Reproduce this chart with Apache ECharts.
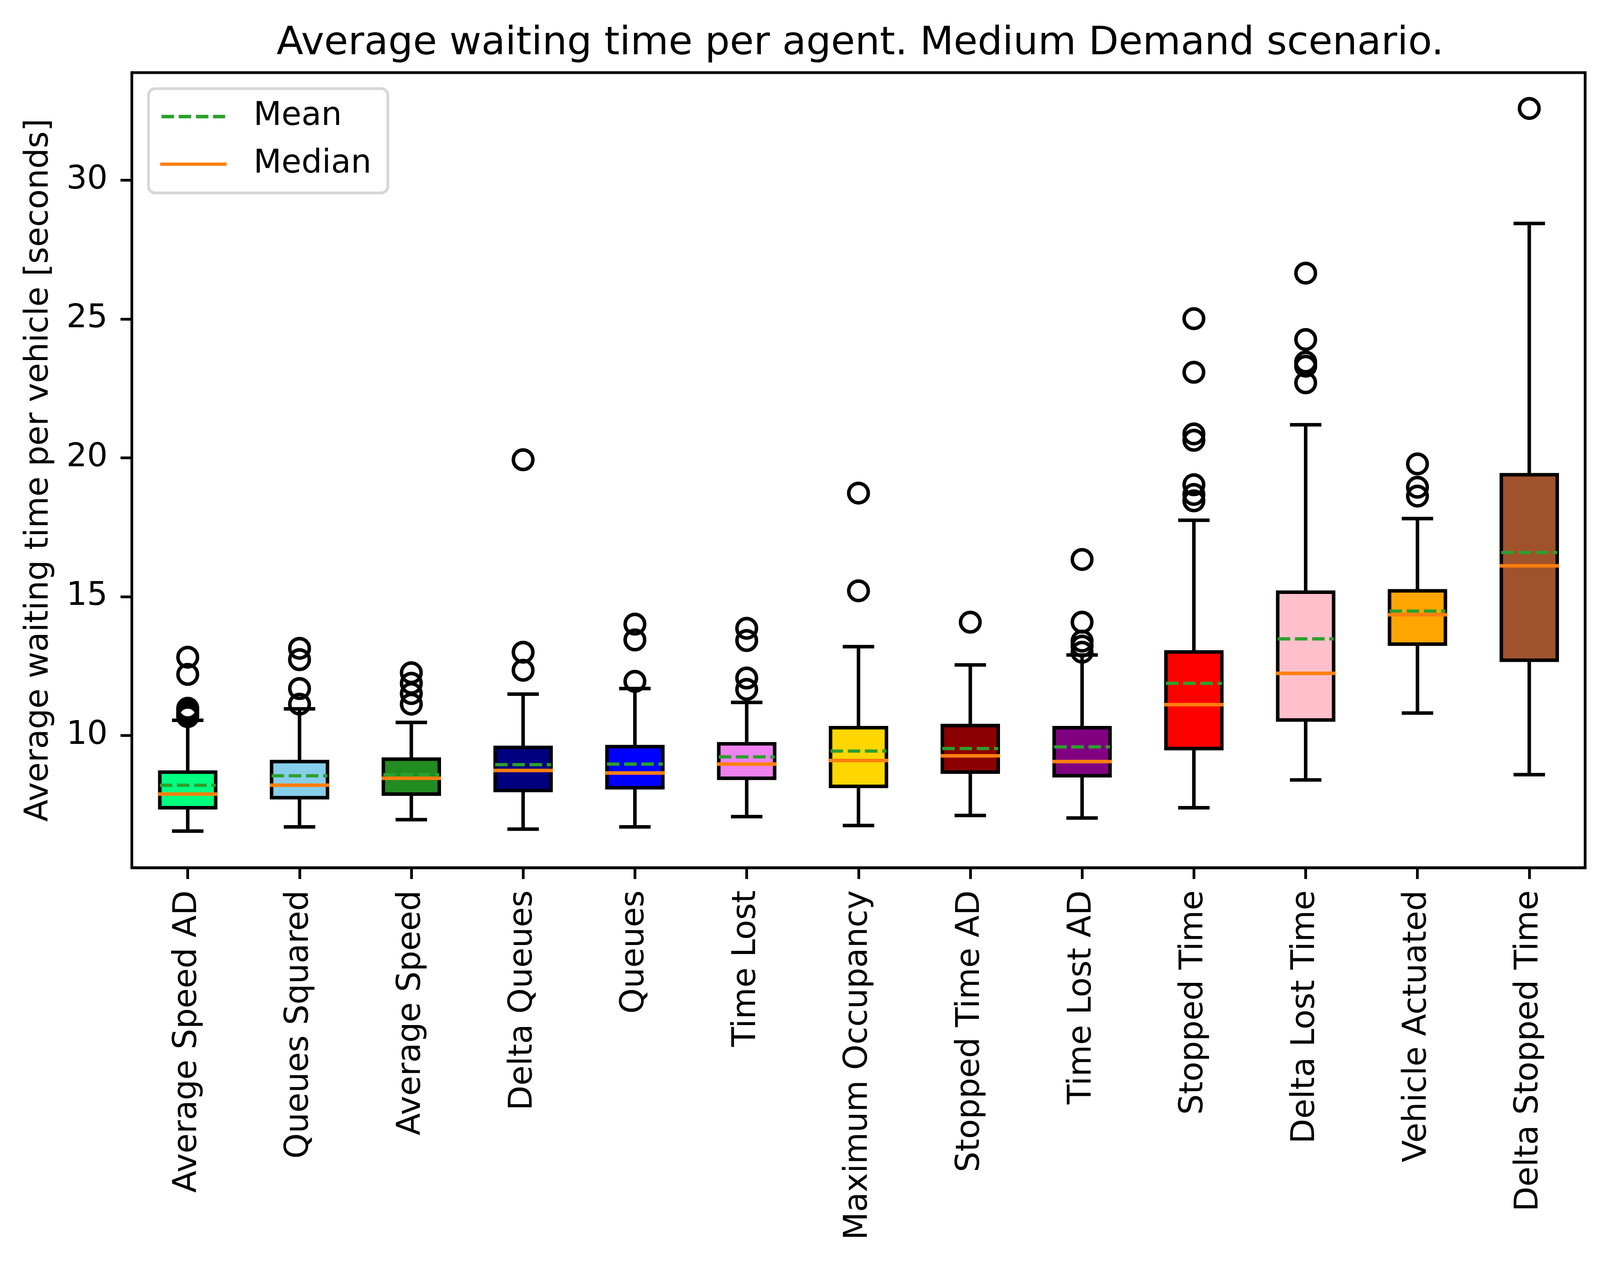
<!DOCTYPE html>
<html>
<head>
<meta charset="utf-8">
<script src="https://cdn.jsdelivr.net/npm/echarts@6/dist/echarts.min.js"></script>
<style>
html,body{margin:0;padding:0;background:#fff;overflow:hidden;}
#chart{width:4118px;height:3242px;}
</style>
</head>
<body>
<div id="chart"></div>
<script>
const categories = ['Average Speed AD','Queues Squared','Average Speed','Delta Queues','Queues','Time Lost','Maximum Occupancy','Stopped Time AD','Time Lost AD','Stopped Time','Delta Lost Time','Vehicle Actuated','Delta Stopped Time'];
const whiskerLow  = [6.56, 6.71, 6.97, 6.63, 6.71, 7.08, 6.76, 7.12, 7.03, 7.40, 8.40, 10.81, 8.59];
const q1Values    = [7.40, 7.76, 7.89, 8.02, 8.12, 8.46, 8.17, 8.68, 8.55, 9.53, 10.56, 13.29, 12.71];
const medians     = [7.89, 8.21, 8.46, 8.74, 8.65, 8.97, 9.10, 9.27, 9.06, 11.11, 12.24, 14.35, 16.11];
const q3Values    = [8.68, 9.06, 9.15, 9.57, 9.60, 9.70, 10.28, 10.36, 10.28, 13.01, 15.16, 15.21, 19.39];
const whiskerHigh = [10.55, 10.96, 10.47, 11.49, 11.69, 11.19, 13.20, 12.54, 12.90, 17.75, 21.19, 17.81, 28.44];
const means       = [8.21, 8.55, 8.59, 8.95, 8.97, 9.23, 9.44, 9.53, 9.59, 11.88, 13.48, 14.48, 16.59];
const outliers = [
  [12.82, 12.20, 10.98, 10.90, 10.82, 10.74, 10.68],
  [13.14, 12.73, 11.69, 11.13],
  [12.26, 11.88, 11.51, 11.13],
  [19.93, 13.00, 12.35],
  [14.01, 13.44, 11.95],
  [13.86, 13.42, 12.07, 11.66],
  [18.73, 15.21],
  [14.08],
  [16.34, 14.08, 13.40, 13.22, 13.00],
  [25.01, 23.08, 20.86, 20.63, 19.03, 18.68, 18.45],
  [26.65, 24.26, 23.45, 23.30, 22.70],
  [19.78, 18.94, 18.62],
  [32.58]
];
const yTicks = [10, 15, 20, 25, 30];
const boxColors = ['#00ff7f','#87ceeb','#228b22','#000080','#0000ff','#ee82ee','#ffd700','#8b0000','#800080','#ff0000','#ffc0cb','#ffa500','#a0522d'];

const FONT = 'DejaVu Sans';
const LW = 9;

const boxData = categories.map((c, i) => [i, whiskerLow[i], q1Values[i], medians[i], q3Values[i], whiskerHigh[i]]);
const medianData = categories.map((c, i) => [i, medians[i]]);
const meanData = categories.map((c, i) => [i, means[i]]);
const outlierData = [];
outliers.forEach((arr, i) => arr.forEach(v => outlierData.push([i, v])));

function renderBox(params, api) {
  const i = api.value(0);
  const band = api.size([1, 0])[0];
  const hw = band * 0.25;
  const ch = band * 0.125;
  const pl = api.coord([i, api.value(1)]);
  const p1 = api.coord([i, api.value(2)]);
  const p3 = api.coord([i, api.value(4)]);
  const ph = api.coord([i, api.value(5)]);
  const cx = pl[0];
  const ls = {stroke: '#000', lineWidth: LW, lineCap: 'butt'};
  const cs = {stroke: '#000', lineWidth: LW, lineCap: 'square'};
  return {
    type: 'group',
    children: [
      {type: 'line', shape: {x1: cx, y1: p3[1], x2: cx, y2: ph[1]}, style: ls},
      {type: 'line', shape: {x1: cx, y1: p1[1], x2: cx, y2: pl[1]}, style: ls},
      {type: 'line', shape: {x1: cx - ch, y1: ph[1], x2: cx + ch, y2: ph[1]}, style: cs},
      {type: 'line', shape: {x1: cx - ch, y1: pl[1], x2: cx + ch, y2: pl[1]}, style: cs},
      {type: 'rect', shape: {x: cx - hw, y: p3[1], width: 2 * hw, height: p1[1] - p3[1]},
        style: {fill: boxColors[i], stroke: '#000', lineWidth: LW}}
    ]
  };
}
function renderMedian(params, api) {
  const i = api.value(0);
  const band = api.size([1, 0])[0];
  const hw = band * 0.25;
  const p = api.coord([i, api.value(1)]);
  return {type: 'line', shape: {x1: p[0] - hw, y1: p[1], x2: p[0] + hw, y2: p[1]},
    style: {stroke: '#ff7f0e', lineWidth: LW, lineCap: 'square'}};
}
function renderMean(params, api) {
  const i = api.value(0);
  const band = api.size([1, 0])[0];
  const hw = band * 0.25;
  const p = api.coord([i, api.value(1)]);
  return {type: 'line', shape: {x1: p[0] - hw, y1: p[1], x2: p[0] + hw, y2: p[1]},
    style: {stroke: '#2ca02c', lineWidth: 8.3, lineCap: 'butt', lineDash: [32, 12]}};
}

const chart = echarts.init(document.getElementById('chart'), null, {renderer: 'canvas'});
chart.setOption({
  animation: false,
  backgroundColor: '#fff',
  title: {
    text: 'Average waiting time per agent. Medium Demand scenario.',
    left: 2197, top: 58, textAlign: 'center',
    textStyle: {fontFamily: FONT, fontSize: 100, fontWeight: 'normal', color: '#000'}
  },
  legend: {
    orient: 'vertical',
    left: 380, top: 227,
    padding: [30, 42, 32, 30],
    itemGap: 39,
    itemWidth: 170, itemHeight: 9,
    backgroundColor: 'rgba(255,255,255,0.8)',
    borderColor: '#d6d6d6', borderWidth: 7, borderRadius: 17,
    textStyle: {fontFamily: FONT, fontSize: 83, color: '#000', lineHeight: 83, padding: [0, 0, 0, 64]},
    itemStyle: {borderWidth: 0},
    data: [
      {name: 'Mean', icon: 'path://M0,0h32v9h-32zM44,0h32v9h-32zM88,0h32v9h-32zM132,0h31v9h-31z', itemStyle: {color: '#2ca02c'}},
      {name: 'Median', icon: 'path://M0,0h176v9h-176z', itemStyle: {color: '#ff7f0e'}}
    ]
  },
  grid: {
    left: 337.5, right: 60, top: 186, bottom: 1020,
    show: true, borderColor: '#000', borderWidth: 7, backgroundColor: 'transparent'
  },
  xAxis: {
    type: 'category',
    data: categories,
    boundaryGap: true,
    axisLine: {show: true, lineStyle: {color: '#000', width: 7}},
    axisTick: {show: true, alignWithLabel: true, length: 29, lineStyle: {color: '#000', width: 7}},
    axisLabel: {rotate: 90, interval: 0, margin: 58, fontFamily: FONT, fontSize: 83, color: '#000'},
    splitLine: {show: false}
  },
  yAxis: {
    type: 'value',
    min: 5.24, max: 33.87,
    name: 'Average waiting time per vehicle [seconds]',
    nameLocation: 'middle',
    nameGap: 196,
    nameTextStyle: {fontFamily: FONT, fontSize: 83, color: '#000'},
    axisLine: {show: true, lineStyle: {color: '#000', width: 7}},
    axisTick: {show: true, length: 29, lineStyle: {color: '#000', width: 7}, customValues: yTicks},
    axisLabel: {margin: 62, fontFamily: FONT, fontSize: 83, color: '#000', customValues: yTicks},
    splitLine: {show: false}
  },
  series: [
    {type: 'custom', name: 'Boxes', renderItem: renderBox, data: boxData,
      encode: {x: 0, y: [1, 2, 3, 4, 5]}, z: 2, silent: true},
    {type: 'custom', name: 'Median', renderItem: renderMedian, data: medianData,
      encode: {x: 0, y: 1}, itemStyle: {color: '#ff7f0e'}, z: 3, silent: true},
    {type: 'custom', name: 'Mean', renderItem: renderMean, data: meanData,
      encode: {x: 0, y: 1}, itemStyle: {color: '#2ca02c'}, z: 4, silent: true},
    {type: 'scatter', name: 'Outliers', data: outlierData, symbol: 'circle', symbolSize: 50,
      itemStyle: {color: 'rgba(0,0,0,0)', borderColor: '#000', borderWidth: 9, opacity: 1}, z: 5, silent: true}
  ]
});
</script>
</body>
</html>
